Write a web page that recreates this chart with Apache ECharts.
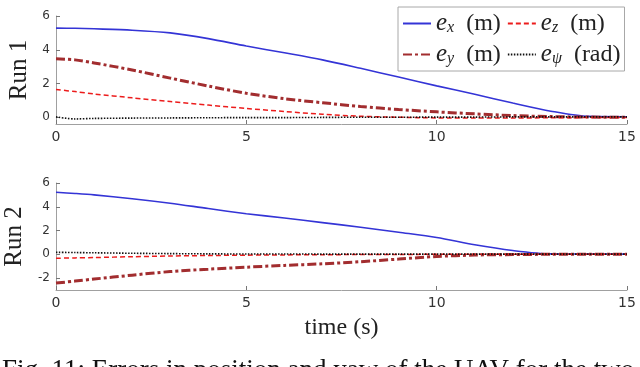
<!DOCTYPE html>
<html>
<head>
<meta charset="utf-8">
<script src="https://cdn.jsdelivr.net/npm/echarts@6/dist/echarts.min.js"></script>
<style>
  html, body { margin: 0; padding: 0; background: #fff; }
  #chart { width: 640px; height: 367px; }
</style>
</head>
<body>
<div id="chart"></div>
<script>
// sample times (s), shared by every series
const time = [0, 0.5, 1, 2, 3, 4, 5, 6, 7, 8, 9, 10, 11, 12, 13, 14, 15];

// Run 1
const ex1 = [5.28, 5.27, 5.24, 5.16, 5.0, 4.66, 4.22, 3.82, 3.4, 2.9, 2.38, 1.86, 1.36, 0.84, 0.36, 0.05, 0.03];
const ey1 = [3.46, 3.4, 3.22, 2.8, 2.32, 1.85, 1.42, 1.1, 0.86, 0.64, 0.46, 0.32, 0.2, 0.1, 0.04, 0.01, 0.0];
const ez1 = [1.65, 1.52, 1.38, 1.15, 0.93, 0.72, 0.52, 0.34, 0.18, 0.06, 0.0, -0.04, -0.05, -0.05, -0.03, -0.02, -0.01];
const epsi1 = [0.02, -0.1, -0.07, -0.05, -0.04, -0.03, -0.02, -0.02, -0.01, 0, 0, 0.01, 0.01, 0.02, 0.02, 0.02, 0.02];

// Run 2
const ex2 = [5.22, 5.12, 5.0, 4.68, 4.3, 3.85, 3.42, 3.05, 2.67, 2.28, 1.86, 1.42, 0.8, 0.32, 0.04, 0.03, 0.02];
const ey2 = [-2.42, -2.25, -2.08, -1.75, -1.45, -1.25, -1.08, -0.93, -0.8, -0.62, -0.4, -0.18, -0.06, -0.02, 0, 0, 0];
const ez2 = [-0.33, -0.3, -0.27, -0.2, -0.14, -0.1, -0.07, -0.05, -0.03, -0.02, -0.01, 0, 0, 0, 0, 0, 0];
const epsi2 = [0.17, 0.15, 0.13, 0.09, 0.06, 0.04, 0.03, 0.03, 0.02, 0.02, 0.02, 0.02, 0.02, 0.02, 0.02, 0.02, 0.02];

const xTicks = [0, 5, 10, 15];
const yTicks1 = [0, 2, 4, 6];
const yTicks2 = [-2, 0, 2, 4, 6];

const serif = 'Liberation Serif';

const styles = {
  ex: { color: '#3434d6', width: 1.6, type: 'solid' },
  ey: { color: '#a22d2f', width: 3, type: [9, 3, 3, 3] },
  ez: { color: '#ec1c1c', width: 1.5, type: [5, 3] },
  epsi: { color: '#111111', width: 1.6, type: [1.5, 1.5] },
};

const legendText = {
  ex: '{e|e}{s|x}{t|  (m)}',
  ez: '{e|e}{s|z}{t|  (m)}',
  ey: '{e|e}{s|y}{t|  (m)}',
  epsi: '{e|e}{s|ψ}{t|  (rad)}',
};

function pairs(values) {
  return time.map((t, i) => [t, values[i]]);
}

function makeSeries(name, values, axisIndex) {
  const s = styles[name];
  return {
    name: name,
    type: 'line',
    xAxisIndex: axisIndex,
    yAxisIndex: axisIndex,
    data: pairs(values),
    smooth: 0.3,
    symbol: 'none',
    color: s.color,
    lineStyle: { color: s.color, width: s.width, type: s.type },
    silent: true,
  };
}

function xAxis(gridIndex, withName) {
  const axis = {
    type: 'value',
    gridIndex: gridIndex,
    min: 0,
    max: 15,
    interval: 5,
    axisLine: { onZero: false, lineStyle: { color: '#a0a0a0', width: 1 } },
    axisTick: { inside: true, length: 4, lineStyle: { color: '#777' }, customValues: xTicks },
    axisLabel: { customValues: xTicks, color: '#333', fontSize: 14, fontFamily: 'DejaVu Sans', margin: 6 },
    splitLine: { show: false },
  };
  if (withName) {
    axis.name = 'time (s)';
    axis.nameLocation = 'middle';
    axis.nameGap = 26;
    axis.nameTextStyle = { fontFamily: serif, fontSize: 24, color: '#222' };
  }
  return axis;
}

function yAxis(gridIndex, min, ticks, name) {
  return {
    type: 'value',
    gridIndex: gridIndex,
    min: min,
    max: 6,
    name: name,
    nameLocation: 'middle',
    nameGap: 24,
    nameTextStyle: { fontFamily: serif, fontSize: 25, color: '#222' },
    axisLine: { show: true, lineStyle: { color: '#a0a0a0', width: 1 } },
    axisTick: { show: true, inside: true, length: 4, lineStyle: { color: '#777' }, customValues: ticks },
    axisLabel: { customValues: ticks, color: '#333', fontSize: 12, fontFamily: 'DejaVu Sans', margin: 6 },
    splitLine: { show: false },
  };
}

const chart = echarts.init(document.getElementById('chart'));

chart.setOption({
  animation: false,
  backgroundColor: '#fff',
  grid: [
    { left: 56, right: 13, top: 16, height: 108, outerBoundsMode: 'none' },
    { left: 56, right: 13, top: 183, height: 107, outerBoundsMode: 'none' },
  ],
  xAxis: [xAxis(0, false), xAxis(1, true)],
  yAxis: [yAxis(0, -0.4, yTicks1, 'Run 1'), yAxis(1, -3, yTicks2, 'Run 2')],
  legend: {
    data: ['ex', 'ez', 'ey', 'epsi'],
    left: 398,
    top: 7,
    width: 234,
    itemWidth: 28,
    itemHeight: 14,
    itemGap: 6,
    padding: [4, 4, 4, 4],
    borderColor: '#a8a8a8',
    borderWidth: 1,
    backgroundColor: '#fff',
    selectedMode: false,
    itemStyle: { opacity: 0 },
    formatter: name => legendText[name],
    textStyle: {
      color: '#222',
      rich: {
        e: { fontFamily: serif, fontStyle: 'italic', fontSize: 25, color: '#222' },
        s: { fontFamily: serif, fontStyle: 'italic', fontSize: 16, color: '#222', verticalAlign: 'bottom', padding: [9, 0, 0, 0] },
        t: { fontFamily: serif, fontSize: 24, color: '#222' },
      },
    },
  },
  graphic: [
    {
      type: 'text',
      left: 2,
      top: 357,
      style: {
        text: 'Fig. 11: Errors in position and yaw of the UAV for the two',
        font: '27px "Liberation Serif"',
        fill: '#111',
      },
    },
  ],
  series: [
    makeSeries('ex', ex1, 0),
    makeSeries('ey', ey1, 0),
    makeSeries('ez', ez1, 0),
    makeSeries('epsi', epsi1, 0),
    makeSeries('ex', ex2, 1),
    makeSeries('ey', ey2, 1),
    makeSeries('ez', ez2, 1),
    makeSeries('epsi', epsi2, 1),
  ],
});
</script>
</body>
</html>
